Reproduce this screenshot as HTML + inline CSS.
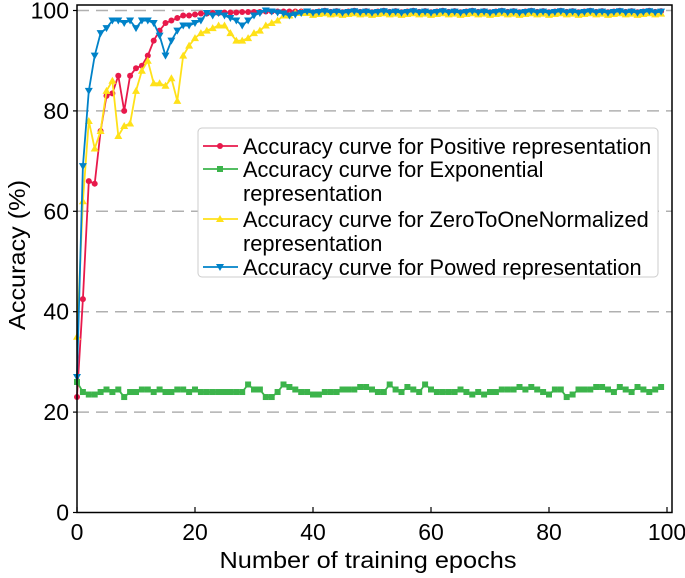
<!DOCTYPE html>
<html><head><meta charset="utf-8"><style>
body{margin:0;background:#fff}
svg text{font-family:"Liberation Sans",Arial,sans-serif;fill:#000}
</style></head><body>
<svg id="c" width="685" height="573" xmlns="http://www.w3.org/2000/svg"></svg>
<script>
const epochs=[];for(let i=0;i<=99;i++)epochs.push(i);
const positive=[23,42.5,66,65.5,76,83,83.5,87,80,87,88.5,89,91,94,96,97.5,98,98.5,99,99,99.2,99.4,99.4,99.5,99.5,99.6,99.6,99.6,99.7,99.7,99.7,99.7,99.8,99.8,99.8,99.8,99.8,99.8,99.8,99.8];
const exponential=[26,24,23.5,23.5,24,24.5,24,24.5,23,24,24,24.5,24.5,24,24.5,24,24,24.5,24.5,24,24.5,24,24,24,24,24,24,24,24,25.5,24.5,24.5,23,23,24,25.5,25,24.5,24,24,23.5,23.5,24,24,24,24.5,24.5,24.5,25,25,24.5,24,24,25.5,24.5,24,25,24.5,24,25.5,24.5,24,24,24,24,24.5,24,23.5,24,23.5,24,24,24.5,24.5,24.5,25,24.5,25,24.5,24,23.5,24.5,24.5,23,23.5,24.5,24.5,24.5,25,25,24.5,24,25,24.5,24,25,24.5,24,24.5,25];
const zeroToOne=[35,62,78,72.5,76,84,86,75,77,77.5,84,88,90,85.5,85.5,85,86.5,82,91,93,94.5,95.5,96,96.5,97,97,95.5,94,94,94.5,95.5,96,97,97.5,98,99,99,99.5,99.5,99.5];
const powed=[27,69,84,91,95.5,96.5,98,98,97.5,98,96.5,98,98,97.5,95,91,94,96,97,97,97.5,98,99.5,99,99.5,99,98.5,98,97,98,99,99.5,100,99.8,99.6,99.4,99,99.2,99.5,99.8];
function extend(a,v){const r=a.slice();while(r.length<100)r.push(v+((r.length*37)%5-2)*0.08);return r;}
const series=[
 {name:'positive',vals:extend(positive,99.8),color:'#e8194b',m:'circle',label:['Accuracy curve for Positive representation']},
 {name:'exponential',vals:exponential,color:'#3cb44b',m:'square',label:['Accuracy curve for Exponential','representation']},
 {name:'zero-to-one',vals:extend(zeroToOne,99.3),color:'#ffe119',m:'tri',label:['Accuracy curve for ZeroToOneNormalized','representation']},
 {name:'powed',vals:extend(powed,99.7),color:'#0082c8',m:'tridown',label:['Accuracy curve for Powed representation']}
];
const xTicks=[0,20,40,60,80,100],yTicks=[0,20,40,60,80,100];
const X=v=>77+v*5.9, Y=v=>512.5-v*5.02;
const svg=document.getElementById('c');const NS='http://www.w3.org/2000/svg';
function el(t,a,p){const e=document.createElementNS(NS,t);for(const k in a)e.setAttribute(k,a[k]);(p||svg).appendChild(e);return e;}
yTicks.forEach(t=>{if(t>0){const g=el('line',{x1:77,x2:672,y1:Y(t),y2:Y(t),stroke:'#b0b0b0','stroke-width':1.5,'stroke-dasharray':'12,7'});
}
el('line',{x1:73,x2:77,y1:Y(t),y2:Y(t),stroke:'#000','stroke-width':1.2});
const tx=el('text',{x:69,y:Y(t)+8,'text-anchor':'end','font-size':23});tx.textContent=t;
});
xTicks.forEach(t=>{el('line',{x1:X(t),x2:X(t),y1:512.5,y2:507,stroke:'#000','stroke-width':1.2});
const tx=el('text',{x:X(t),y:540,'text-anchor':'middle','font-size':23});tx.textContent=t;
});
function marker(m,x,y,c,p){
 if(m==='circle')return el('circle',{cx:x,cy:y,r:3,fill:c},p);
 if(m==='square')return el('rect',{x:x-3,y:y-3,width:6,height:6,fill:c},p);
 if(m==='tri')return el('polygon',{points:`${x},${y-4} ${x-4},${y+3} ${x+4},${y+3}`,fill:c},p);
 return el('polygon',{points:`${x},${y+4} ${x-4},${y-3} ${x+4},${y-3}`,fill:c},p);}
series.forEach(s=>{const g=el('g',{});

el('polyline',{points:s.vals.map((v,i)=>X(epochs[i])+','+Y(v)).join(' '),fill:'none',stroke:s.color,'stroke-width':1.8},g);
s.vals.forEach((v,i)=>marker(s.m,X(epochs[i]),Y(v),s.color,g));});
const fr=el('rect',{x:77,y:5,width:595,height:507.5,fill:'none',stroke:'#000','stroke-width':1.5});

const lg=el('g',{});
el('rect',{x:198,y:128,width:460,height:149,rx:4,fill:'#fff',stroke:'#ccc','stroke-width':1},lg);
const ly=[146,169,219,267];
series.forEach((s,i)=>{const e=el('g',{},lg);

el('line',{x1:203,x2:238,y1:ly[i],y2:ly[i],stroke:s.color,'stroke-width':1.8},e);marker(s.m,220,ly[i],s.color,e);
s.label.forEach((t,j)=>{const tx=el('text',{x:243,y:ly[i]+8+j*24,'font-size':21.8},e);tx.textContent=t;});});
const xt=el('text',{x:368,y:568,'text-anchor':'middle','font-size':23,textLength:297,lengthAdjust:'spacingAndGlyphs'});xt.textContent='Number of training epochs';

const yt=el('text',{x:0,y:0,'text-anchor':'middle','font-size':23,textLength:150,lengthAdjust:'spacingAndGlyphs',transform:'translate(25,255) rotate(-90)'});yt.textContent='Accuracy (%)';

</script></body></html>
